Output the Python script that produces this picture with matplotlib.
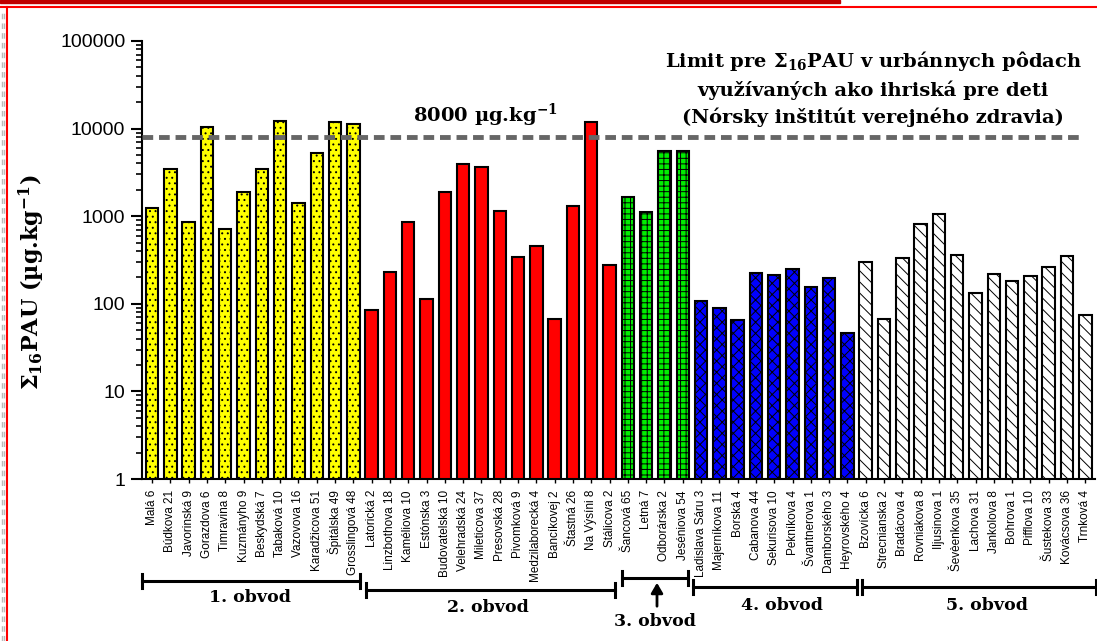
import matplotlib
matplotlib.use("Agg")
import matplotlib.pyplot as plt
from matplotlib.lines import Line2D
from matplotlib.patches import Rectangle, FancyArrowPatch

# sampling sites (street names) per district
streets_1 = ["Malá 6", "Búdkova 21", "Javorinská 9", "Gorazdova 6", "Timravina 8", "Kuzmányho 9",
             "Beskydská 7", "Tabaková 10", "Vazovova 16", "Karadžicova 51", "Špitálska 49", "Grosslingová 48"]
streets_2 = ["Latorická 2", "Linzbothova 18", "Kaméliova 10", "Estónska 3", "Budovatelská 10",
             "Velehradská 24", "Mileticova 37", "Presovská 28", "Pivomková 9", "Medzilaborecká 4",
             "Bancíkovej 2", "Štastná 26", "Na Výsíni 8", "Stálicova 2"]
streets_3 = ["Šancová 65", "Letná 7", "Odborárska 2", "Jeséniova 54"]
streets_4 = ["Ladislava Sáru 3", "Majerníkova 11", "Borská 4", "Cabanova 44", "Sekurisova 10",
             "Pekníkova 4", "Švantnerova 1", "Damborského 3", "Heyrovského 4"]
streets_5 = ["Bzovícka 6", "Strecnianska 2", "Bradácova 4", "Rovniakova 8", "Iljusinova 1",
             "Ševèenkova 35", "Lachova 31", "Jankolova 8", "Bohrova 1", "Pifflova 10",
             "Šustekova 33", "Kovácsova 36", "Trnková 4"]

# sum of 16 PAH, ug/kg
pau_1 = [1240, 3430, 860, 10500, 720, 1870, 3430, 12300, 1420, 5200, 11800, 11200]
pau_2 = [85, 230, 860, 114, 1870, 3980, 3650, 1140, 340, 455, 67, 1300, 12000, 280]
pau_3 = [1640, 1130, 5550, 5500]
pau_4 = [108, 89, 65, 223, 214, 250, 155, 199, 46]
pau_5 = [300, 67, 335, 810, 1050, 360, 133, 220, 182, 210, 260, 350, 75]

limit = 8000
district_names = ["1. obvod", "2. obvod", "3. obvod", "4. obvod", "5. obvod"]

SERIF = "DejaVu Serif"


def draw_bars(ax):
    """
    Draw the bars of all five districts, each with its own fill and hatch
    """
    groups = [(streets_1, pau_1, "#ffff00", "..."),
              (streets_2, pau_2, "#ff0000", ""),
              (streets_3, pau_3, "#00ee00", "+++"),
              (streets_4, pau_4, "#0000ff", "xxx"),
              (streets_5, pau_5, "white", "\\\\\\")]
    labels = []
    start = 0
    for streets, values, color, hatch in groups:
        x = list(range(start, start + len(values)))
        ax.bar(x, values, width=0.68, color=color, edgecolor="black", linewidth=1.5,
               hatch=hatch, zorder=2)
        labels.extend(streets)
        start += len(values)
    ax.set_xticks(range(len(labels)))
    ax.set_xticklabels(labels, rotation=90, fontsize=8.5, family="Liberation Sans")
    return len(labels)


def draw_districts(fig):
    """
    Brackets with district names under the street labels (figure pixels)
    """
    W, H = 1097, 641

    def px(x, y):
        return x / W, 1 - y / H

    def bracket(x0, x1, y, h=7):
        for xs, ys in [([x0, x1], [y, y]), ([x0, x0], [y - h, y + h]), ([x1, x1], [y - h, y + h])]:
            fig.add_artist(Line2D([v / W for v in xs], [1 - v / H for v in ys],
                                  color="black", lw=2.2))

    bracket(142, 360, 581)
    bracket(366, 615, 590)
    bracket(622, 688, 578)
    bracket(693, 857, 587)
    bracket(862, 1096, 587)

    pos = [(250, 598), (488, 607), (655, 621), (782, 606), (987, 606)]
    for name, (x, y) in zip(district_names, pos):
        fig.text(*px(x, y), name, ha="center", va="center", fontsize=12.5,
                 family=SERIF, weight="bold")

    # arrow pointing to the 3rd district bracket
    fig.add_artist(FancyArrowPatch(px(657, 609), px(657, 580),
                                   arrowstyle="-|>,head_length=6,head_width=3.5",
                                   color="black", lw=2, transform=fig.transFigure))


def draw_frame(fig):
    """
    Red slide frame along the top and left side
    """
    fig.add_artist(Rectangle((0, 1 - 3 / 641), 840 / 1097, 3 / 641, color="#c00000",
                             transform=fig.transFigure))
    fig.add_artist(Line2D([0, 1], [1 - 7 / 641, 1 - 7 / 641], color="#ff0000", lw=1.5))
    fig.add_artist(Line2D([7 / 1097, 7 / 1097], [0, 1 - 7 / 641], color="#ff0000", lw=1.5))
    for xp in [1.5, 4]:
        fig.add_artist(Line2D([xp / 1097, xp / 1097], [0, 1 - 9 / 641], color="#bbbbbb", lw=1,
                              linestyle=(0, (4, 3))))


def plot_data():
    plt.rcParams["mathtext.fontset"] = "dejavuserif"
    plt.rcParams["hatch.linewidth"] = 0.7
    fig = plt.figure(figsize=(10.97, 6.41), dpi=100)
    ax = fig.add_axes([142 / 1097, 1 - 479 / 641, (1095 - 142) / 1097, (479 - 41) / 641])

    n = draw_bars(ax)
    ax.set_yscale("log")
    ax.set_ylim(1, 100000)
    ax.set_xlim(-0.55, n - 0.47)

    # limit line
    ax.axhline(limit, xmin=0, xmax=0.985, color="#666666", lw=3.5, linestyle=(0, (2.2, 1.2)), zorder=3)

    # axis and tick settings
    for side in ["top", "right"]:
        ax.spines[side].set_visible(False)
    ax.spines["left"].set_linewidth(1.5)
    ax.spines["bottom"].set_linewidth(1.5)
    ax.set_yticks([1, 10, 100, 1000, 10000, 100000])
    ax.set_yticklabels(["1", "10", "100", "1000", "10000", "100000"], fontsize=14, family="Liberation Sans")
    ax.tick_params(axis="y", which="major", direction="out", length=8, width=1.5, pad=4)
    ax.tick_params(axis="y", which="minor", direction="out", length=4, width=1.2)
    ax.tick_params(axis="x", direction="out", length=3, width=1, pad=5)

    ax.set_ylabel("Σ$_{\\mathbf{16}}$PAU (µg.kg$^{\\mathbf{-1}}$)", fontsize=16, family=SERIF, weight="bold")
    ax.yaxis.set_label_coords(-0.1, 0.45)

    ax.text(18.2, 9800, "8000 µg.kg$^{\\mathbf{-1}}$", ha="center", va="bottom", fontsize=14,
            family=SERIF, weight="bold")
    ax.text(39.4, 10300, "Limit pre Σ$_{\\mathbf{16}}$PAU v urbánnych pôdach\n"
            "využívaných ako ihriská pre deti\n(Nórsky inštitút verejného zdravia)",
            ha="center", va="bottom", fontsize=14, family=SERIF, weight="bold", linespacing=1.5)

    draw_districts(fig)
    draw_frame(fig)

    plt.savefig("out.png", dpi=100)


plot_data()
